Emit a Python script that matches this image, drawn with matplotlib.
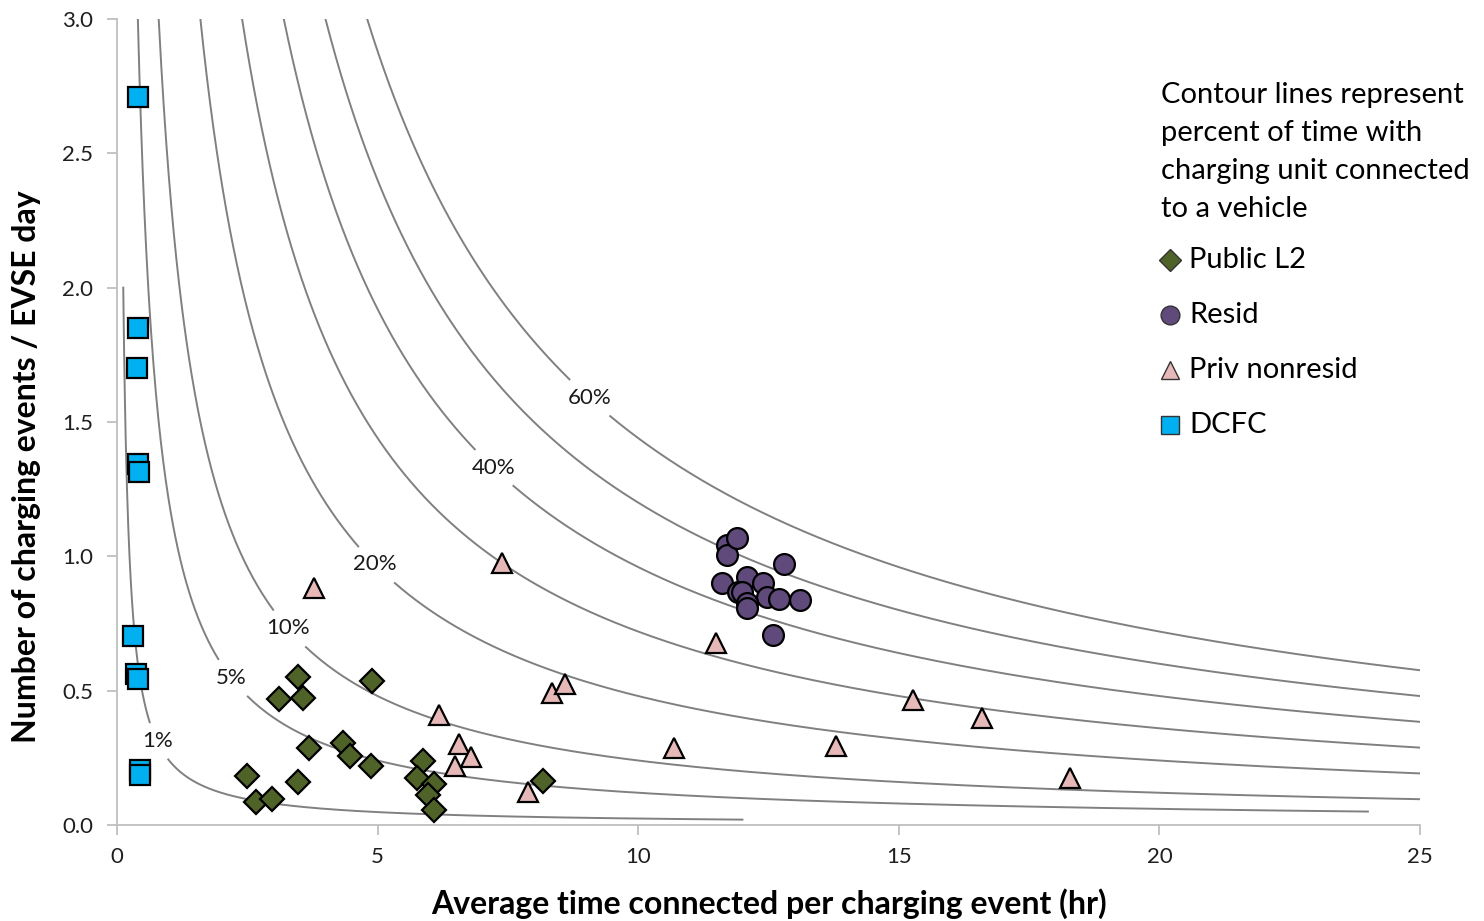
import numpy as np
import matplotlib
matplotlib.use("Agg")
import matplotlib.pyplot as plt
from matplotlib.lines import Line2D

plt.rcParams['font.family'] = ['Lato', 'DejaVu Sans']

# contour curves: percent of the day the unit is plugged in (events/day * hr/event / 24)
pct_levels = [1, 5, 10, 20, 30, 40, 50, 60]
curve_x_start = [0.12, 0.4, 0.8, 1.6, 2.4, 3.2, 4.0, 4.8]
curve_x_end = [12, 24, 25, 25, 25, 25, 25, 25]
label_levels = [1, 5, 10, 20, 40, 60]
label_x = [0.77, 2.19, 3.28, 4.95, 7.22, 9.06]

# site types: avg hours connected per event, events per EVSE day
publ2_hr = [3.48, 3.11, 3.56, 4.89, 3.69, 4.34, 4.48, 4.87, 2.50, 3.47, 2.67, 2.97,
            5.88, 5.75, 6.08, 5.97, 6.08, 8.18]
publ2_ev = [0.552, 0.468, 0.474, 0.536, 0.285, 0.306, 0.257, 0.220, 0.183, 0.161, 0.087, 0.097,
            0.238, 0.174, 0.151, 0.112, 0.056, 0.165]

resid_hr = [11.70, 11.70, 11.90, 12.80, 11.60, 12.09, 12.40, 11.92, 12.00, 12.47, 12.71, 13.10,
            12.09, 12.09, 12.59]
resid_ev = [1.042, 1.005, 1.067, 0.973, 0.900, 0.924, 0.900, 0.868, 0.868, 0.847, 0.840, 0.837,
            0.827, 0.808, 0.707]

priv_hr = [3.78, 6.17, 6.57, 6.79, 6.49, 7.39, 7.89, 8.34, 8.60, 10.69, 11.49, 13.80, 15.28, 16.60, 18.28]
priv_ev = [0.882, 0.410, 0.300, 0.254, 0.220, 0.975, 0.124, 0.490, 0.525, 0.287, 0.676, 0.294, 0.465, 0.397, 0.174]

dcfc_hr = [0.40, 0.40, 0.38, 0.41, 0.42, 0.31, 0.36, 0.40, 0.44, 0.44]
dcfc_ev = [2.708, 1.851, 1.702, 1.345, 1.315, 0.703, 0.561, 0.545, 0.205, 0.186]

series = [
    ("Public L2", publ2_hr, publ2_ev, "D", "#4F6228", 12),
    ("Resid", resid_hr, resid_ev, "o", "#604A7B", 15),
    ("Priv nonresid", priv_hr, priv_ev, "^", "#E6B9B8", 14.5),
    ("DCFC", dcfc_hr, dcfc_ev, "s", "#00B0F0", 14),
]

fig = plt.figure(figsize=(14.84, 9.21), dpi=100)
ax = fig.add_axes([117 / 1484, 96 / 921, 1303 / 1484, 806 / 921])
ax.set_xlim(0, 25)
ax.set_ylim(0, 3.0)

# contour curves, broken where a percent label sits
label_px = {}
for lvl, lx in zip(label_levels, label_x):
    ly = 24 * lvl / 100 / lx
    label_px[lvl] = ax.transData.transform((lx, ly))
    ax.text(lx, ly, f"{lvl}%", ha="center", va="center", fontsize=16, color="#1a1a1a")

for lvl, x0, x1 in zip(pct_levels, curve_x_start, curve_x_end):
    xs = np.linspace(x0, x1, 1500)
    ys = 24 * lvl / 100 / xs
    if lvl in label_px:
        pts = ax.transData.transform(np.column_stack([xs, ys]))
        cx, cy = label_px[lvl]
        gap = (np.abs(pts[:, 0] - cx) < 26) & (np.abs(pts[:, 1] - cy) < 18)
        ys = np.where(gap, np.nan, ys)
    ax.plot(xs, ys, color="#808080", lw=1.4, zorder=1)

for name, hx, ev, mk, col, ms in series:
    ax.plot(hx, ev, ls="none", marker=mk, ms=ms, mfc=col, mec="black", mew=1.6, zorder=3)

for side in ("top", "right"):
    ax.spines[side].set_visible(False)
for side in ("left", "bottom"):
    ax.spines[side].set_color("#BFBFBF")
    ax.spines[side].set_linewidth(1.3)

ax.set_xticks([0, 5, 10, 15, 20, 25])
ax.set_yticks(np.arange(0, 3.01, 0.5))
ax.yaxis.set_major_formatter(matplotlib.ticker.FormatStrFormatter("%.1f"))
ax.tick_params(direction="out", length=7, width=1.3, color="#BFBFBF",
               labelsize=16, labelcolor="#1f1f1f")
ax.tick_params(axis="x", pad=9)
ax.tick_params(axis="y", pad=10)

fig.text(769 / 1484, 1 - 904 / 921, "Average time connected per charging event (hr)",
         ha="center", va="center", fontsize=23, fontweight="bold")
fig.text(27 / 1484, 1 - 467 / 921, "Number of charging events / EVSE day",
         ha="center", va="center", rotation=90, fontsize=23, fontweight="bold")

# legend block on the right
title_lines = ["Contour lines represent", "percent of time with",
               "charging unit connected", "to a vehicle"]
for i, line in enumerate(title_lines):
    fig.text(1161 / 1484, 1 - (95 + 38 * i) / 921, line, ha="left", va="center", fontsize=21)

for i, (name, hx, ev, mk, col, ms) in enumerate(series):
    yy = 1 - (260 + 55 * i) / 921
    fig.add_artist(Line2D([1170 / 1484], [yy], marker=mk, ms=ms * 0.9, mfc=col, mec="#333333",
                          mew=1.0, ls="none", transform=fig.transFigure))
    fig.text(1189 / 1484, yy, name, ha="left", va="center", fontsize=21)

fig.savefig("out.png", dpi=100)
